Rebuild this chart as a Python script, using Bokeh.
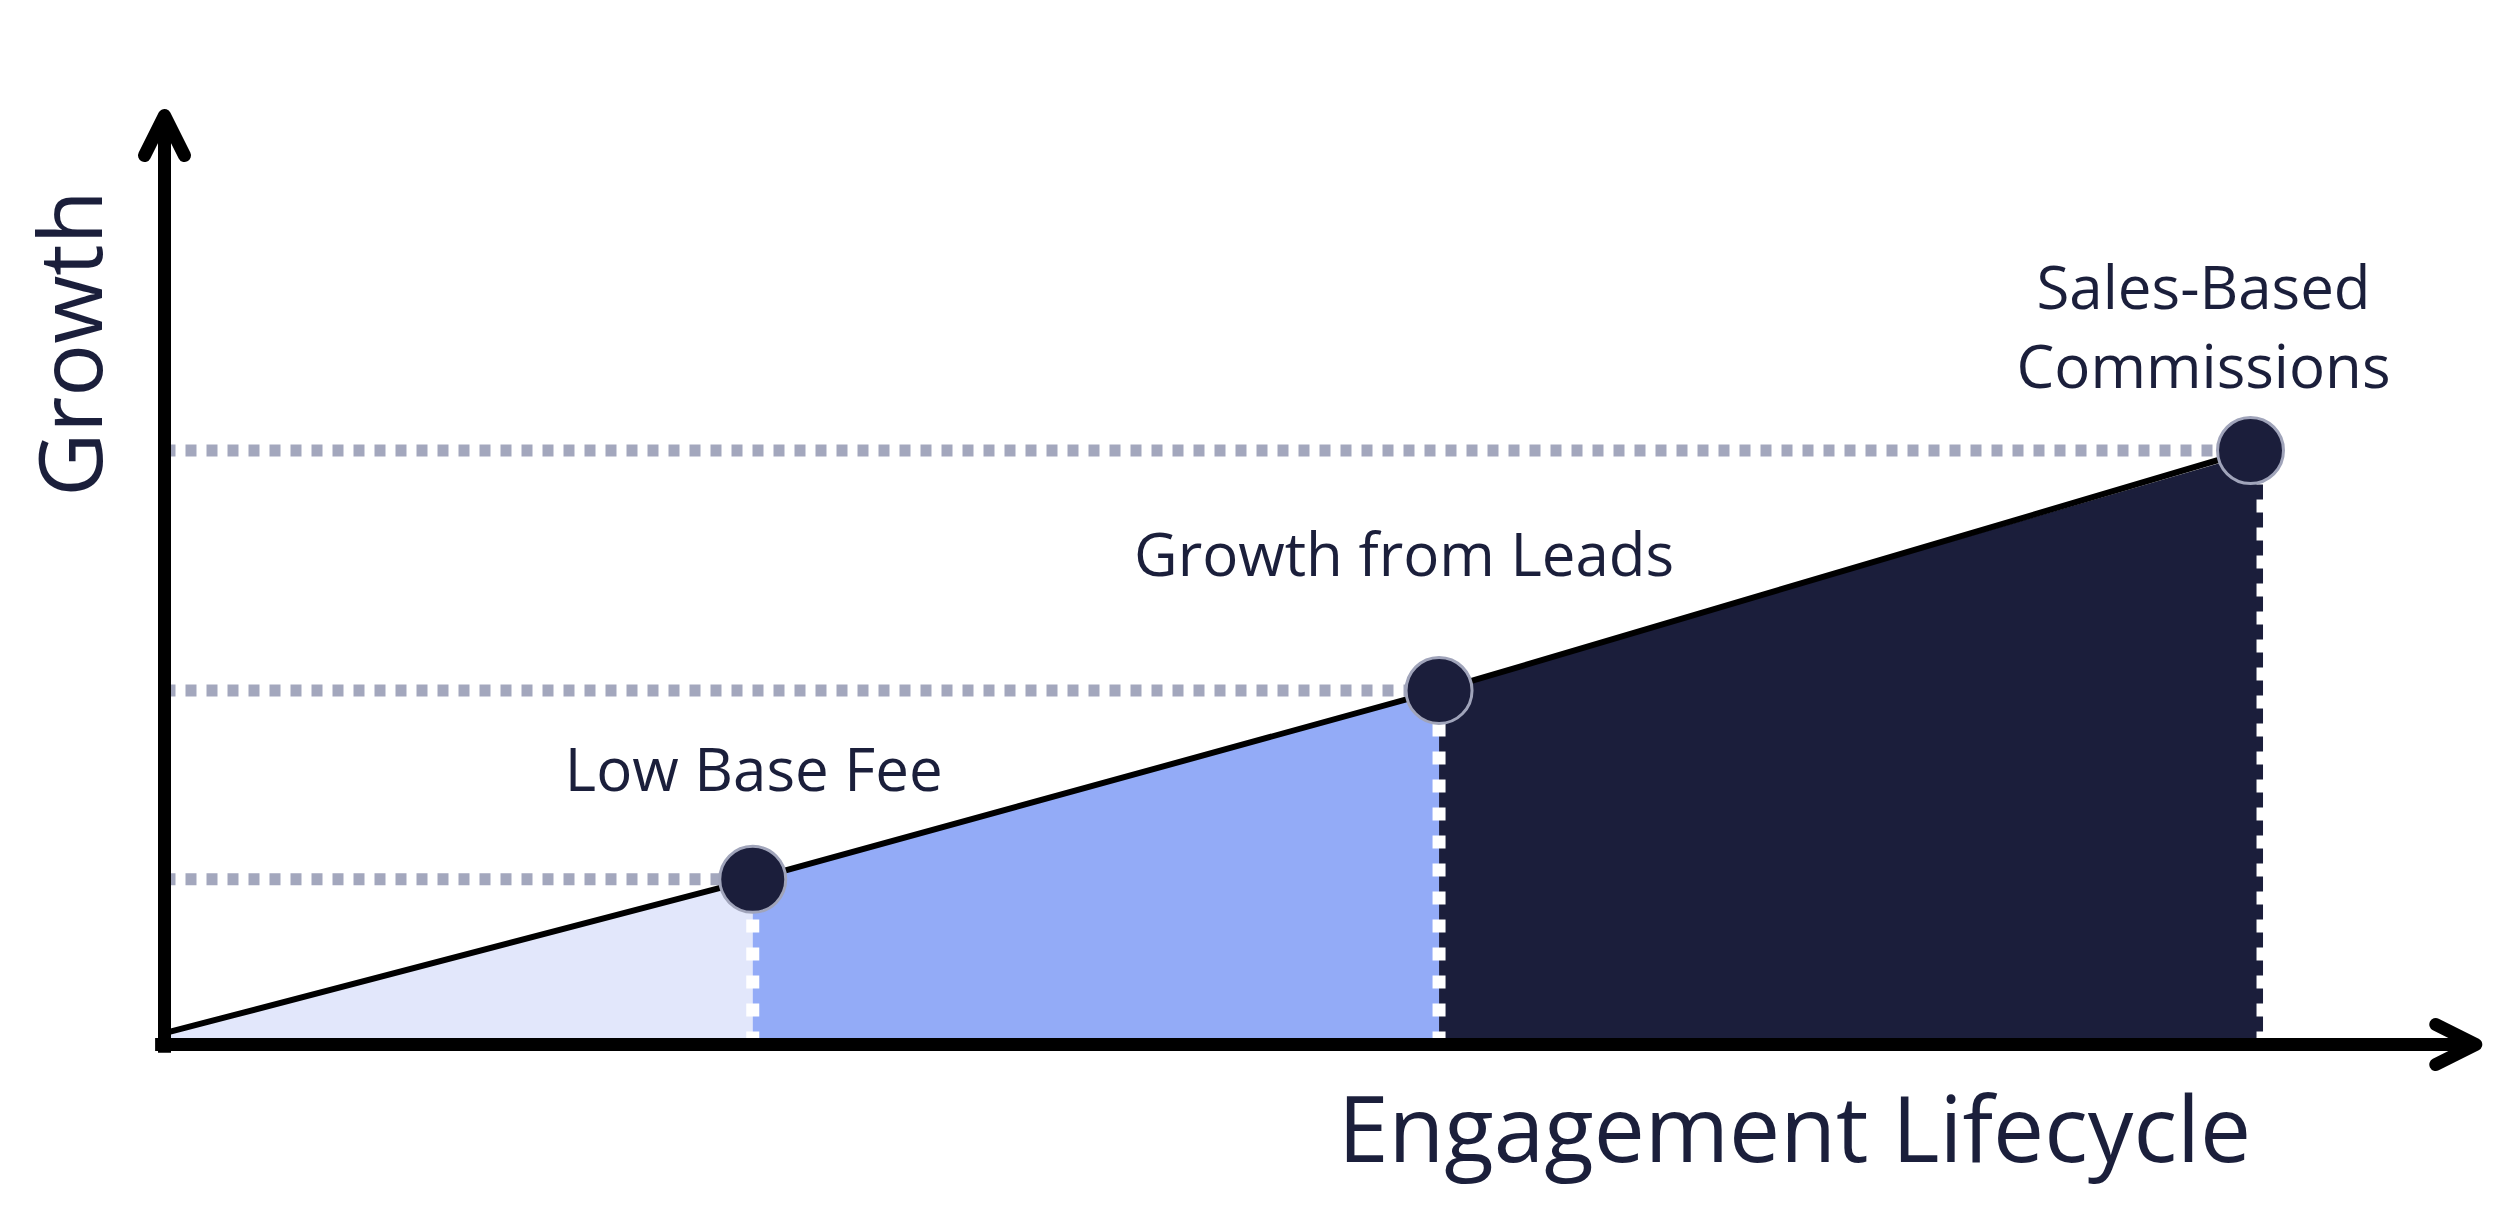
from bokeh.plotting import figure
from bokeh.models import Range1d, Arrow, OpenHead, ColumnDataSource
from bokeh.core.properties import value
from bokeh.embed import file_html
from bokeh.resources import INLINE
import math

# ---- data ----
stage_x = [0.0, 2.82, 6.11, 10.0]        # engagement lifecycle position
growth = [0.19, 2.78, 5.96, 10.0]        # growth level
region_end_x = 10.06                     # right edge of the last shaded region
region_end_y = 10.0
point_x = stage_x[1:]
point_y = growth[1:]
labels = ["Low Base Fee", "Growth from Leads", "Sales-Based", "Commissions"]
x_title = "Engagement Lifecycle"
y_title = "Growth"

fill_colors = ["#e2e7fb", "#93abf7", "#1b1e3b"]
text_color = "#1b1f3b"
font = value("Open Sans")

W, H = 2484, 1196
OFF = 0
# scale: x 0 -> px 164, 10 -> 2250 ; y 0 -> 1044, 10 -> 450
kx = (2250 - 164) / 10.0
ky = (1044 - 450) / 10.0
xs = -(164 - OFF) / kx
xe = xs + W / kx
yt = (1044 - OFF) / ky
yb = yt - H / ky

p = figure(width=W, height=H, output_backend="svg", toolbar_location=None,
           x_range=Range1d(xs, xe), y_range=Range1d(yb, yt),
           min_border=0, x_axis_location=None, y_axis_location=None)
p.grid.visible = False
p.outline_line_color = None
p.background_fill_color = "white"
p.border_fill_color = "white"

# filled regions under the line
fx = stage_x[:3] + [region_end_x]
fy = growth[:3] + [region_end_y]
for i in range(3):
    p.varea(x=[fx[i], fx[i + 1]], y1=[0, 0],
            y2=[fy[i], fy[i + 1]], fill_color=fill_colors[i])

# white dashed vertical lines
for xv, yv in zip(fx[1:], fy[1:]):
    p.line([xv, xv], [0, yv], line_color="white", line_width=13,
           line_dash="13 15", line_cap="butt")

# gray dotted horizontal guides
for xv, yv in zip(point_x, point_y):
    p.line([0, xv], [yv, yv], line_color="#a3a7bd", line_width=12,
           line_dash="11 10", line_cap="butt")

# growth line
p.line(stage_x, growth, line_color="black", line_width=6)

# points
p.scatter(point_x, point_y, size=66, fill_color="#1b1e3b",
          line_color="#a0a4ba", line_width=3)

# axes with arrows
p.add_layout(Arrow(end=OpenHead(size=40, line_width=13, line_color="black",
                                line_cap="round", line_join="round"),
                   x_start=0, y_start=-0.14, x_end=0, y_end=15.64,
                   line_width=13, line_color="black"))
p.add_layout(Arrow(end=OpenHead(size=40, line_width=13, line_color="black",
                                line_cap="round", line_join="round"),
                   x_start=-0.045, y_start=0, x_end=11.08, y_end=0,
                   line_width=13, line_color="black"))

# labels anchored to the points, offset in screen pixels
lab_src = ColumnDataSource(dict(
    x=[point_x[0], point_x[1], point_x[2], point_x[2]],
    y=[point_y[0], point_y[1], point_y[2], point_y[2]],
    text=labels,
    xo=[1, -35, -47, -47],
    yo=[-111, -137, -165, -86],
))
p.text(x="x", y="y", text="text", x_offset="xo", y_offset="yo", source=lab_src,
       text_font=font, text_font_size="60px", text_color=text_color,
       text_align="center", text_baseline="middle")

# axis titles
p.text(x=[(1794 - 164) / kx], y=[(1044 - 1126) / ky], text=[x_title],
       text_font=font, text_font_size="91px", text_color=text_color,
       text_align="center", text_baseline="middle", text_line_height=1.0)
p.text(x=[(67 - 164) / kx], y=[(1044 - 343) / ky], text=[y_title],
       angle=math.pi / 2, text_font=font, text_font_size="88px",
       text_color=text_color, text_align="center", text_baseline="middle")

open("out.html", "w").write(file_html(p, INLINE))
